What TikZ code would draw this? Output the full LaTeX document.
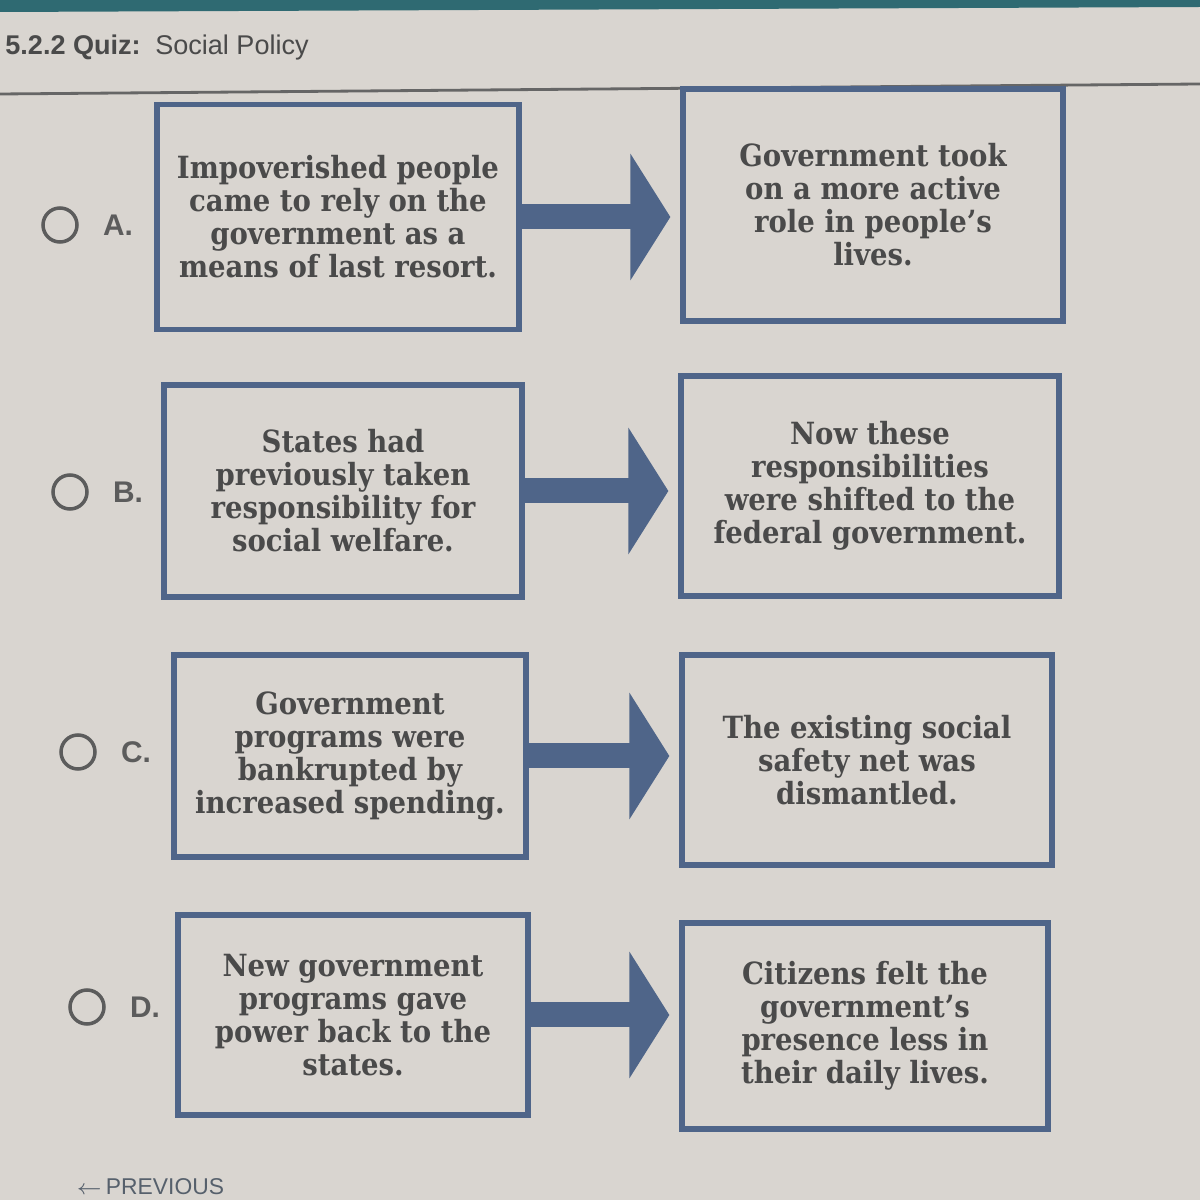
\documentclass[tikz,border=0pt]{standalone}
\usepackage{fontspec}
\setmainfont{DejaVu Serif}
\setsansfont{Liberation Sans}
\newfontfamily\slabfont{DejaVu Serif Condensed}
\usetikzlibrary{arrows.meta,positioning,calc}
\definecolor{boxblue}{HTML}{4F6589}
\definecolor{inkgray}{HTML}{4A4A4A}
\definecolor{paper}{HTML}{D9D5D0}
\definecolor{topbar}{HTML}{2F6A72}
\definecolor{navgray}{HTML}{56606C}

\begin{document}
\begin{tikzpicture}[
  answerbox/.style={draw=boxblue, line width=1.5pt, align=center, inner sep=0pt,
    text=inkgray, font=\slabfont\bfseries\fontsize{8.7}{9.4}\selectfont},
  bigarrow/.style={draw=boxblue, line width=0.25cm,
    -{Triangle[width=1.25cm,length=0.4cm]}, shorten >=0.1cm},
  radio/.style={circle, draw=inkgray!90, line width=1pt, minimum size=0.34cm, inner sep=0pt},
  letter/.style={font=\sffamily\bfseries\fontsize{8.5}{10}\selectfont, text=inkgray!90}
  ]
  \useasboundingbox (0,0) rectangle (12,12);
  \fill[paper] (0,0) rectangle (12,12);
  \fill[topbar] (0,12) -- (12,12) -- (12,11.93) -- (0,11.88) -- cycle;
  \draw[gray!80!black, line width=0.8pt] (0,11.06) -- (12,11.16);
  \node[anchor=west, text=inkgray, font=\sffamily\fontsize{7.7}{10}\selectfont] (title) at (-0.07,11.52)
    {\textbf{5.2.2 Quiz:}\, Social Policy};

  % row A
  \node[answerbox, minimum width=3.62cm, minimum height=2.25cm] (a1) at (3.38,9.83)
    {Impoverished people\\came to rely on the\\government as a\\means of last resort.};
  \node[answerbox, minimum width=3.8cm, minimum height=2.32cm] (a2) at (8.73,9.95)
    {Government took\\on a more active\\role in people’s\\lives.};
  \draw[bigarrow] (a1.east) -- (a1.east -| a2.west);
  \node[radio] (ra) at (0.60,9.75) {};
  \node[letter, right=0.12cm of ra] (la) {A.};

  % row B
  \node[answerbox, minimum width=3.58cm, minimum height=2.12cm] (b1) at (3.43,7.09)
    {States had\\previously taken\\responsibility for\\social welfare.};
  \node[answerbox, minimum width=3.78cm, minimum height=2.2cm] (b2) at (8.70,7.14)
    {Now these\\responsibilities\\were shifted to the\\federal government.};
  \draw[bigarrow] (b1.east) -- (b1.east -| b2.west);
  \node[radio] (rb) at (0.70,7.08) {};
  \node[letter, right=0.12cm of rb] (lb) {B.};

  % row C
  \node[answerbox, minimum width=3.52cm, minimum height=2.02cm] (c1) at (3.50,4.44)
    {Government\\programs were\\bankrupted by\\increased spending.};
  \node[answerbox, minimum width=3.7cm, minimum height=2.1cm] (c2) at (8.67,4.40)
    {The existing social\\safety net was\\dismantled.};
  \draw[bigarrow] (c1.east) -- (c1.east -| c2.west);
  \node[radio] (rc) at (0.78,4.48) {};
  \node[letter, right=0.12cm of rc] (lc) {C.};

  % row D
  \node[answerbox, minimum width=3.5cm, minimum height=2.0cm] (d1) at (3.53,1.85)
    {New government\\programs gave\\power back to the\\states.};
  \node[answerbox, minimum width=3.66cm, minimum height=2.06cm] (d2) at (8.65,1.74)
    {Citizens felt the\\government’s\\presence less in\\their daily lives.};
  \draw[bigarrow] (d1.east) -- (d1.east -| d2.west);
  \node[radio] (rd) at (0.87,1.93) {};
  \node[letter, right=0.12cm of rd] (ld) {D.};

  \node[anchor=west, text=navgray, font=\sffamily\fontsize{6.5}{8}\selectfont] (prev) at (0.64,0.13)
    {$\leftarrow$\,PREVIOUS};
\end{tikzpicture}
\end{document}
